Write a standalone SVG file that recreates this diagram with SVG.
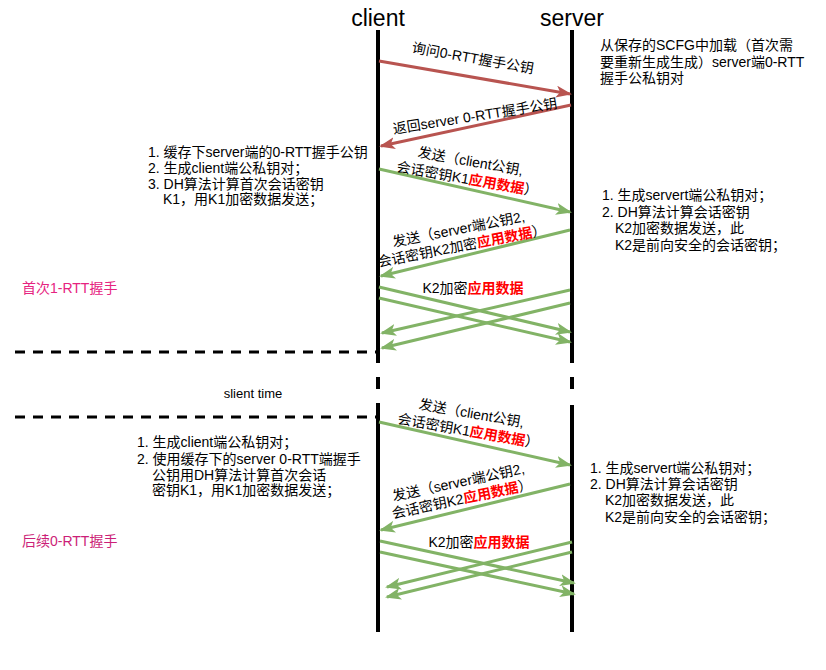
<svg xmlns="http://www.w3.org/2000/svg" width="826" height="670" viewBox="0 0 826 670">
<style>
text{font-family:"Liberation Sans","Noto Sans CJK SC",sans-serif;font-size:14px;fill:#000}
.title{font-size:23px;text-anchor:middle}
.lbl{text-anchor:middle}
.em{fill:#ff0000;font-weight:bold}
.life{stroke:#000;stroke-width:4;fill:none}
.dash{stroke:#000;stroke-width:3;stroke-dasharray:10 8;fill:none}
.red{stroke:#b85450;stroke-width:3;fill:none;marker-end:url(#ah-red)}
.grn{stroke:#82b366;stroke-width:3;fill:none;marker-end:url(#ah-grn)}
</style>
<defs>
<marker id="ah-red" viewBox="0 0 16 12" refX="14" refY="6" markerWidth="16" markerHeight="12" markerUnits="userSpaceOnUse" orient="auto"><path d="M0,0 L16,6 L0,12 L4,6 z" fill="#b85450"/></marker>
<marker id="ah-grn" viewBox="0 0 16 12" refX="14" refY="6" markerWidth="16" markerHeight="12" markerUnits="userSpaceOnUse" orient="auto"><path d="M0,0 L16,6 L0,12 L4,6 z" fill="#82b366"/></marker>
</defs>
<rect width="826" height="670" fill="#fff"/>

<g id="client">
<text class="title" x="378" y="26">client</text>
<path class="life" d="M378,30 V363 M378,377 V389 M378,403 V632"/>
</g>
<g id="server">
<text class="title" x="572" y="26">server</text>
<path class="life" d="M572,30 V363 M572,377 V389 M572,405 V632"/>
</g>

<g id="separators">
<path class="dash" d="M15,352 H376"/>
<path class="dash" d="M15,417 H376"/>
<text x="253" y="398" text-anchor="middle" style="font-size:13px">slient time</text>
</g>

<g id="phase-labels">
<text x="22" y="293" fill="#e6237f" style="fill:#e6237f">首次1-RTT握手</text>
<text x="22" y="546" style="fill:#cc1f78">后续0-RTT握手</text>
</g>

<g id="note-server-1">
<text x="600"><tspan x="600" y="50">从保存的SCFG中加载（首次需</tspan><tspan x="600" y="67">要重新生成生成）server端0-RTT</tspan><tspan x="600" y="83">握手公私钥对</tspan></text>
</g>
<g id="note-client-1">
<text><tspan x="148" y="157">1. 缓存下server端的0-RTT握手公钥</tspan><tspan x="148" y="173">2. 生成client端公私钥对；</tspan><tspan x="148" y="189">3. DH算法计算首次会话密钥</tspan><tspan x="163" y="204">K1，用K1加密数据发送；</tspan></text>
</g>
<g id="note-server-2">
<text><tspan x="602" y="200">1. 生成servert端公私钥对；</tspan><tspan x="602" y="217">2. DH算法计算会话密钥</tspan><tspan x="615" y="233">K2加密数据发送，此</tspan><tspan x="615" y="250">K2是前向安全的会话密钥；</tspan></text>
</g>
<g id="note-client-2">
<text><tspan x="137" y="447">1. 生成client端公私钥对；</tspan><tspan x="137" y="464">2. 使用缓存下的server 0-RTT端握手</tspan><tspan x="152" y="480">公钥用DH算法计算首次会话</tspan><tspan x="152" y="495">密钥K1，用K1加密数据发送；</tspan></text>
</g>
<g id="note-server-3">
<text><tspan x="590" y="473">1. 生成servert端公私钥对；</tspan><tspan x="590" y="489">2. DH算法计算会话密钥</tspan><tspan x="605" y="505">K2加密数据发送，此</tspan><tspan x="605" y="522">K2是前向安全的会话密钥；</tspan></text>
</g>

<g id="connectors">
<path class="red" d="M379,61 L570,94"/>
<path class="red" d="M571,105 L381,146"/>
<path class="grn" d="M379,169 L570,212"/>
<path class="grn" d="M570,230 L381,276"/>
<path class="grn" d="M379,287 L570,332"/>
<path class="grn" d="M379,298 L570,342"/>
<path class="grn" d="M570,290 L382,333"/>
<path class="grn" d="M570,303 L382,348"/>
<path class="grn" d="M379,422 L570,465"/>
<path class="grn" d="M570,484 L381,530"/>
<path class="grn" d="M380,541 L574,583"/>
<path class="grn" d="M380,552 L574,594"/>
<path class="grn" d="M572,542 L387,587"/>
<path class="grn" d="M572,552 L387,597"/>
</g>

<g id="connector-labels">
<text class="lbl" transform="translate(473,58) rotate(10)" y="5">询问0-RTT握手公钥</text>
<text class="lbl" transform="translate(475,116) rotate(-9)" y="5">返回server 0-RTT握手公钥</text>
<text class="lbl" transform="translate(469,170) rotate(10)"><tspan x="0" y="-4">发送（client公钥,</tspan><tspan x="0" y="14">会话密钥K1<tspan class="em">应用数据</tspan>）</tspan></text>
<text class="lbl" transform="translate(460,237) rotate(-11)"><tspan x="0" y="-3">发送（server端公钥2,</tspan><tspan x="0" y="14">会话密钥K2加密<tspan class="em">应用数据</tspan>）</tspan></text>
<text class="lbl" x="473" y="293">K2加密<tspan class="em">应用数据</tspan></text>
<text class="lbl" transform="translate(470,422) rotate(10)"><tspan x="0" y="-4">发送（client公钥,</tspan><tspan x="0" y="14">会话密钥K1<tspan class="em">应用数据</tspan>）</tspan></text>
<text class="lbl" transform="translate(460,490) rotate(-12)"><tspan x="0" y="-3">发送（server端公钥2,</tspan><tspan x="0" y="14">会话密钥K2<tspan class="em">应用数据</tspan>）</tspan></text>
<text class="lbl" x="479" y="547">K2加密<tspan class="em">应用数据</tspan></text>
</g>
</svg>
